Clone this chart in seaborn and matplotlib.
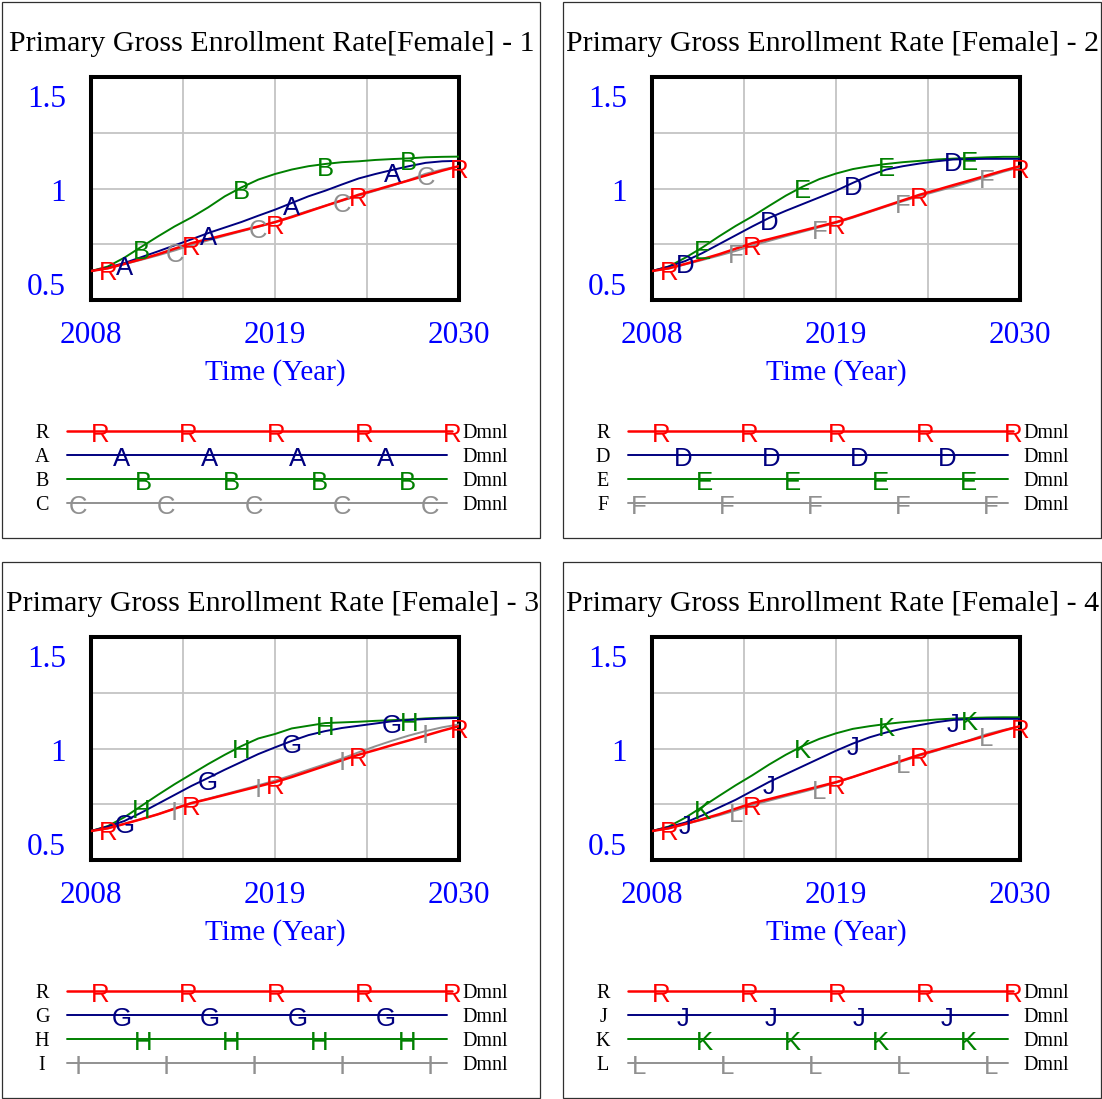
import numpy as np
import pandas as pd
import matplotlib
matplotlib.use("Agg")
import matplotlib.pyplot as plt
from matplotlib.patches import Rectangle
from matplotlib.transforms import offset_copy
import seaborn as sns

# ---------------------------------------------------------------- data
YEARS = list(range(2008, 2031))

# reference run (R) shared by every panel
R = [0.630, 0.642, 0.662, 0.683, 0.705, 0.730, 0.755, 0.773, 0.792, 0.811, 0.830, 0.849,
     0.872, 0.897, 0.922, 0.947, 0.972, 0.993, 1.015, 1.036, 1.058, 1.080, 1.100]

A = [0.630, 0.645, 0.666, 0.692, 0.718, 0.745, 0.772, 0.800, 0.825, 0.850, 0.878, 0.905,
     0.935, 0.965, 0.990, 1.018, 1.045, 1.065, 1.083, 1.100, 1.115, 1.122, 1.124]
B = [0.630, 0.650, 0.690, 0.738, 0.785, 0.830, 0.870, 0.915, 0.965, 1.005, 1.040, 1.065,
     1.085, 1.100, 1.110, 1.118, 1.122, 1.128, 1.132, 1.135, 1.140, 1.142, 1.143]
C = [0.630, 0.642, 0.661, 0.680, 0.700, 0.722, 0.746, 0.767, 0.788, 0.808, 0.828, 0.850,
     0.875, 0.900, 0.923, 0.945, 0.968, 0.990, 1.012, 1.038, 1.066, 1.085, 1.100]

D = [0.630, 0.650, 0.675, 0.710, 0.750, 0.790, 0.830, 0.868, 0.900, 0.930, 0.960, 0.990,
     1.025, 1.058, 1.085, 1.100, 1.112, 1.122, 1.130, 1.132, 1.133, 1.133, 1.133]
E = [0.630, 0.650, 0.690, 0.735, 0.785, 0.832, 0.875, 0.922, 0.968, 1.008, 1.042, 1.067,
     1.087, 1.100, 1.110, 1.118, 1.124, 1.130, 1.134, 1.137, 1.140, 1.142, 1.142]
F = [0.630, 0.641, 0.660, 0.679, 0.699, 0.720, 0.744, 0.765, 0.786, 0.806, 0.826, 0.846,
     0.869, 0.894, 0.919, 0.943, 0.966, 0.987, 1.007, 1.029, 1.052, 1.075, 1.095]

G = [0.630, 0.650, 0.675, 0.712, 0.752, 0.792, 0.832, 0.868, 0.905, 0.940, 0.975, 1.005,
     1.034, 1.060, 1.078, 1.092, 1.102, 1.112, 1.122, 1.128, 1.132, 1.135, 1.137]
H = [0.630, 0.652, 0.692, 0.742, 0.792, 0.840, 0.885, 0.930, 0.972, 1.011, 1.045, 1.065,
     1.090, 1.102, 1.114, 1.117, 1.120, 1.124, 1.127, 1.130, 1.135, 1.138, 1.140]
I = [0.630, 0.642, 0.662, 0.683, 0.705, 0.732, 0.756, 0.775, 0.795, 0.815, 0.835, 0.856,
     0.880, 0.905, 0.930, 0.955, 0.983, 1.010, 1.035, 1.058, 1.078, 1.095, 1.108]

J = [0.630, 0.648, 0.668, 0.700, 0.735, 0.770, 0.810, 0.850, 0.885, 0.920, 0.955, 0.990,
     1.022, 1.050, 1.072, 1.090, 1.105, 1.118, 1.128, 1.132, 1.133, 1.133, 1.133]
K = [0.630, 0.650, 0.690, 0.738, 0.787, 0.835, 0.880, 0.928, 0.972, 1.011, 1.043, 1.068,
     1.088, 1.100, 1.110, 1.118, 1.124, 1.130, 1.134, 1.137, 1.139, 1.140, 1.140]
L = [0.630, 0.642, 0.661, 0.680, 0.700, 0.722, 0.746, 0.766, 0.786, 0.805, 0.825, 0.847,
     0.872, 0.897, 0.921, 0.944, 0.968, 0.990, 1.013, 1.038, 1.064, 1.083, 1.100]

TITLES = ["Primary Gross Enrollment Rate[Female] - 1",
          "Primary Gross Enrollment Rate [Female] - 2",
          "Primary Gross Enrollment Rate [Female] - 3",
          "Primary Gross Enrollment Rate [Female] - 4"]
PANEL_SERIES = [[("R", R), ("A", A), ("B", B), ("C", C)],
                [("R", R), ("D", D), ("E", E), ("F", F)],
                [("R", R), ("G", G), ("H", H), ("I", I)],
                [("R", R), ("J", J), ("K", K), ("L", L)]]
X_LABELS = [2008, 2019, 2030]
Y_LABELS = ["1.5", "1", "0.5"]
X_LABEL = "Time (Year)"
UNIT = "Dmnl"

# ---------------------------------------------------------------- style
COLORS = ["#ff0000", "#000080", "#008000", "#909090"]
WIDTHS = [1.8, 1.4, 1.4, 1.4]
# years at which each curve carries its identifying letter
MARK_YEARS = [[2009, 2014, 2019, 2024, 2030],
              [2010, 2015, 2020, 2026],
              [2011, 2017, 2022, 2027],
              [2013, 2018, 2023, 2028]]
# x pixel of letters along the legend lines (panel 1 frame)
LEGEND_MARKS = [[100, 188, 276, 364, 452],
                [122, 210, 298, 386],
                [143, 231, 319, 407],
                [78, 166, 254, 342, 430]]
LEGEND_ROWS = [431, 455, 479, 503]
LEGEND_END = [452, 447, 447, 447]
LETTER_SIZE = 18.5

SERIF = "Liberation Serif"
SANS = "Liberation Sans"

sns.set_theme(style="white")
plt.rcParams["font.family"] = [SERIF, "DejaVu Serif"]

W, Hpx = 1102, 1099
fig = plt.figure(figsize=(W / 100, Hpx / 100), dpi=100)

# pixel-coordinate overlay for frames, titles and legends
ov = fig.add_axes([0, 0, 1, 1], zorder=0)
ov.set_xlim(0, W)
ov.set_ylim(Hpx, 0)
ov.axis("off")
ov.patch.set_alpha(0)

OFFSETS = [(0, 0), (561, 0), (0, 560), (561, 560)]
BOX_L, BOX_R, BOX_T, BOX_B = 91, 459, 77, 300

for p, (dx, dy) in enumerate(OFFSETS):
    series = PANEL_SERIES[p]

    # panel frame
    ov.add_patch(Rectangle((2 + dx, 2 + dy), 538, 536, fill=False,
                           edgecolor="#303030", lw=0.9))
    ov.text(272 + dx, 51 + dy, TITLES[p], ha="center", va="baseline",
            fontsize=21.5, color="black", family=SERIF)

    # plotting area
    ax = fig.add_axes([(BOX_L + dx) / W, 1 - (BOX_B + dy) / Hpx,
                       (BOX_R - BOX_L) / W, (BOX_B - BOX_T) / Hpx], zorder=2)
    ax.set_facecolor("white")
    order = [3, 2, 1, 0]
    for k in order:
        name, vals = series[k]
        df = pd.DataFrame({"year": YEARS, "value": vals})
        sns.lineplot(data=df, x="year", y="value", ax=ax, color=COLORS[k],
                     lw=WIDTHS[k], estimator=None, sort=False, zorder=3 + (3 - k))
    letter_tr = offset_copy(ax.transData, fig=fig, x=0, y=-1.5, units="points")
    for k in order:
        name, vals = series[k]
        for yr in MARK_YEARS[k]:
            ax.text(yr, np.interp(yr, YEARS, vals), name, color=COLORS[k],
                    fontsize=LETTER_SIZE, family=SANS, ha="center",
                    va="center_baseline", transform=letter_tr,
                    clip_on=False, zorder=10)
    ax.set_xlim(2008, 2030)
    ax.set_ylim(0.5, 1.5)
    ax.set_xticks([2013.5, 2019, 2024.5])
    ax.set_yticks([0.75, 1.0, 1.25])
    ax.tick_params(length=0, labelbottom=False, labelleft=False)
    ax.grid(True, color="#c4c4c4", lw=1.3)
    ax.set_xlabel("")
    ax.set_ylabel("")
    for s in ax.spines.values():
        s.set_visible(True)
        s.set_color("black")
        s.set_linewidth(2.9)

    # axis labels
    for yr in X_LABELS:
        px = BOX_L + (yr - 2008) / 22 * (BOX_R - BOX_L)
        ov.text(px + dx, 343 + dy, str(yr), ha="center", va="baseline",
                fontsize=22.5, color="#0000ff", family=SERIF)
    for lab, base in zip(Y_LABELS, [107, 201, 295]):
        ov.text(66 + dx, base + dy, lab, ha="right", va="baseline",
                fontsize=22.5, color="#0000ff", family=SERIF)
    ov.text(275 + dx, 380 + dy, X_LABEL, ha="center", va="baseline",
            fontsize=21, color="#0000ff", family=SERIF)

    # legend block
    for k, (name, vals) in enumerate(series):
        ry = LEGEND_ROWS[k] + dy
        ov.text(42 + dx, ry + 7, name, ha="center", va="baseline",
                fontsize=14.5, color="black", family=SERIF)
        ov.plot([67 + dx, LEGEND_END[k] + dx], [ry, ry], color=COLORS[k],
                lw=WIDTHS[k])
        for mx in LEGEND_MARKS[k]:
            ov.text(mx + dx, ry + 1.5, name, color=COLORS[k], fontsize=LETTER_SIZE,
                    family=SANS, ha="center", va="center_baseline")
        ov.text(462 + dx, ry + 7, UNIT, ha="left", va="baseline",
                fontsize=14.5, color="black", family=SERIF)

fig.savefig("out.png", dpi=100, facecolor="white")
